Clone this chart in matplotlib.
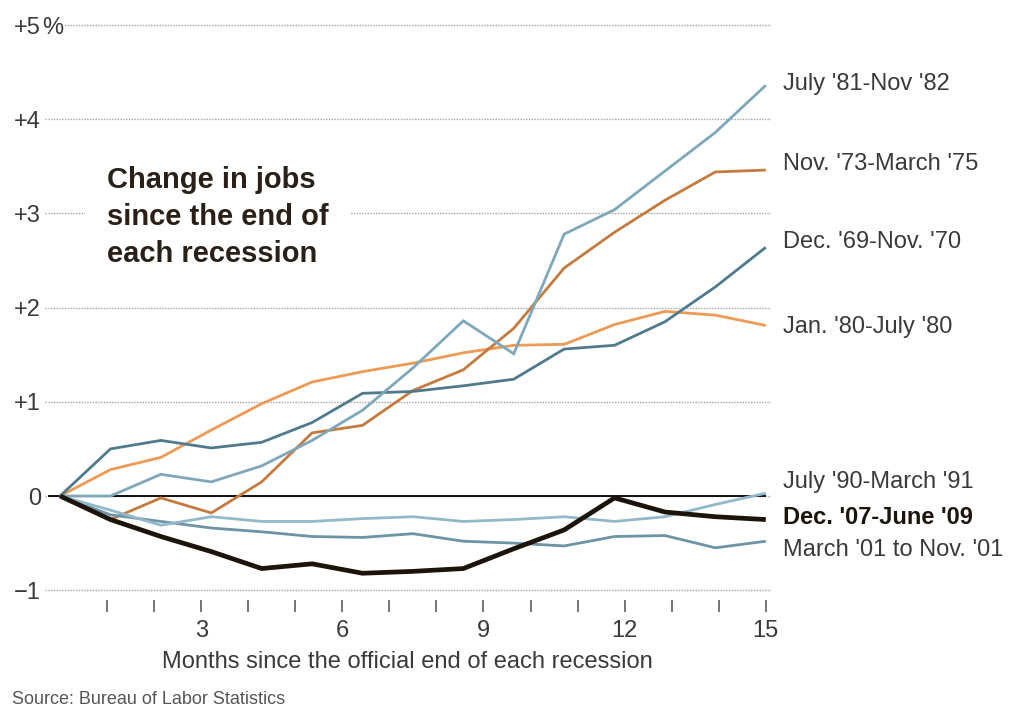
import numpy as np
import matplotlib.pyplot as plt

plt.rcParams['font.family'] = ['Liberation Sans', 'DejaVu Sans']

# 15 monthly readings spread evenly across the 0-15 month axis
months = np.linspace(0, 15, 15)

dec69_nov70 = [0, 0.50, 0.59, 0.51, 0.57, 0.78, 1.09, 1.11, 1.17, 1.24, 1.56, 1.60, 1.85, 2.22, 2.64]
nov73_mar75 = [0, -0.25, -0.02, -0.18, 0.15, 0.67, 0.75, 1.12, 1.34, 1.78, 2.42, 2.80, 3.14, 3.44, 3.46]
jan80_jul80 = [0, 0.28, 0.41, 0.70, 0.98, 1.21, 1.32, 1.41, 1.52, 1.60, 1.61, 1.82, 1.96, 1.92, 1.81]
jul81_nov82 = [0, 0.00, 0.23, 0.15, 0.32, 0.59, 0.91, 1.36, 1.86, 1.51, 2.78, 3.04, 3.45, 3.86, 4.36]
jul90_mar91 = [0, -0.15, -0.31, -0.22, -0.27, -0.27, -0.24, -0.22, -0.27, -0.25, -0.22, -0.27, -0.22, -0.09, 0.03]
mar01_nov01 = [0, -0.20, -0.27, -0.34, -0.38, -0.43, -0.44, -0.40, -0.48, -0.50, -0.53, -0.43, -0.42, -0.55, -0.48]
dec07_jun09 = [0, -0.25, -0.43, -0.59, -0.77, -0.72, -0.82, -0.80, -0.77, -0.56, -0.36, -0.02, -0.17, -0.22, -0.25]

series_labels = [
    "July '81-Nov '82",
    "Nov. '73-March '75",
    "Dec. '69-Nov. '70",
    "Jan. '80-July '80",
    "July '90-March '91",
    "Dec. '07-June '09",
    "March '01 to Nov. '01",
]
series_values = [jul81_nov82, nov73_mar75, dec69_nov70, jan80_jul80,
                 jul90_mar91, dec07_jun09, mar01_nov01]

y_ticks = [-1, 0, 1, 2, 3, 4, 5]
y_tick_labels = ['\u22121', '0', '+1', '+2', '+3', '+4', '+5']
x_ticks = list(range(1, 16))
x_tick_labels = ['', '', '3', '', '', '6', '', '', '9', '', '', '12', '', '', '15']

# line styles: colour, width, label weight, label offset (px)
styles = {
    "July '81-Nov '82": ('#7ea7ba', 2.0, 'normal', 1),
    "Nov. '73-March '75": ('#c57a3e', 2.0, 'normal', 6),
    "Dec. '69-Nov. '70": ('#4f7a8e', 2.0, 'normal', 5),
    "Jan. '80-July '80": ('#ec9a56', 2.0, 'normal', -1),
    "July '90-March '91": ('#92b8ca', 2.0, 'normal', 11),
    "Dec. '07-June '09": ('#1c1309', 3.4, 'bold', 2),
    "March '01 to Nov. '01": ('#6c93a6', 2.0, 'normal', -9),
}
draw_order = ["Jan. '80-July '80", "Nov. '73-March '75", "Dec. '69-Nov. '70",
              "July '81-Nov '82", "March '01 to Nov. '01", "July '90-March '91",
              "Dec. '07-June '09"]

FS = 17
W, H = 1019, 709
fig = plt.figure(figsize=(W / 100, H / 100), dpi=100)
ax = fig.add_axes([45 / W, 1 - 600 / H, 725.5 / W, (600 - 20.3) / H])
ax.set_xlim(-0.32, 15.1)
ax.set_ylim(-1.104, 5.05)

for s in ax.spines.values():
    s.set_visible(False)

ax.grid(axis='y', color='#a3a3a3', linestyle=(0, (1, 1)), linewidth=1.0)
ax.grid(axis='x', visible=False)
ax.set_axisbelow(True)

ax.hlines(0, -0.26, 15.0, color='black', linewidth=1.3, zorder=2)

lookup = dict(zip(series_labels, series_values))
for i, name in enumerate(draw_order):
    color, lw, _, _ = styles[name]
    ax.plot(months, lookup[name], color=color, linewidth=lw,
            solid_joinstyle='miter', solid_capstyle='butt', zorder=3 + i)

for name, vals in zip(series_labels, series_values):
    color, lw, weight, dy = styles[name]
    tcolor = '#1c1309' if weight == 'bold' else '#3a3a3a'
    ax.annotate(name, xy=(months[-1], vals[-1]), xytext=(17, dy),
                textcoords='offset pixels', va='center', ha='left',
                fontsize=FS, fontweight=weight, color=tcolor,
                annotation_clip=False)

ax.set_yticks(y_ticks)
ax.set_yticklabels(y_tick_labels)
ax.tick_params(axis='y', length=0, pad=2.9, labelsize=FS, labelcolor='#3a3a3a')
ax.annotate('%', xy=(0, 5), xycoords=('axes fraction', 'data'),
            xytext=(-3, 0), textcoords='offset pixels', ha='left',
            va='center_baseline', fontsize=FS, color='#3a3a3a',
            bbox=dict(boxstyle='square,pad=0.02', fc='white', ec='none'),
            annotation_clip=False)

ax.set_xticks(x_ticks)
ax.set_xticklabels(x_tick_labels)
ax.tick_params(axis='x', direction='out', length=8.6, width=1.3,
               color='#6a6a6a', pad=5.5, labelsize=FS, labelcolor='#3a3a3a')
ax.set_xlabel('Months since the official end of each recession',
              fontsize=FS, color='#3a3a3a', labelpad=7)

fig.text(107 / W, 1 - 166 / H,
         'Change in jobs\nsince the end of\neach recession',
         ha='left', va='top', fontsize=21, fontweight='bold',
         color='#2a2017', linespacing=1.4,
         bbox=dict(boxstyle='square,pad=0.75', fc='white', ec='none'))

fig.text(12 / W, 1 - 700 / H, 'Source: Bureau of Labor Statistics',
         ha='left', va='center', fontsize=13, color='#555555')

fig.savefig('out.png', dpi=100)
